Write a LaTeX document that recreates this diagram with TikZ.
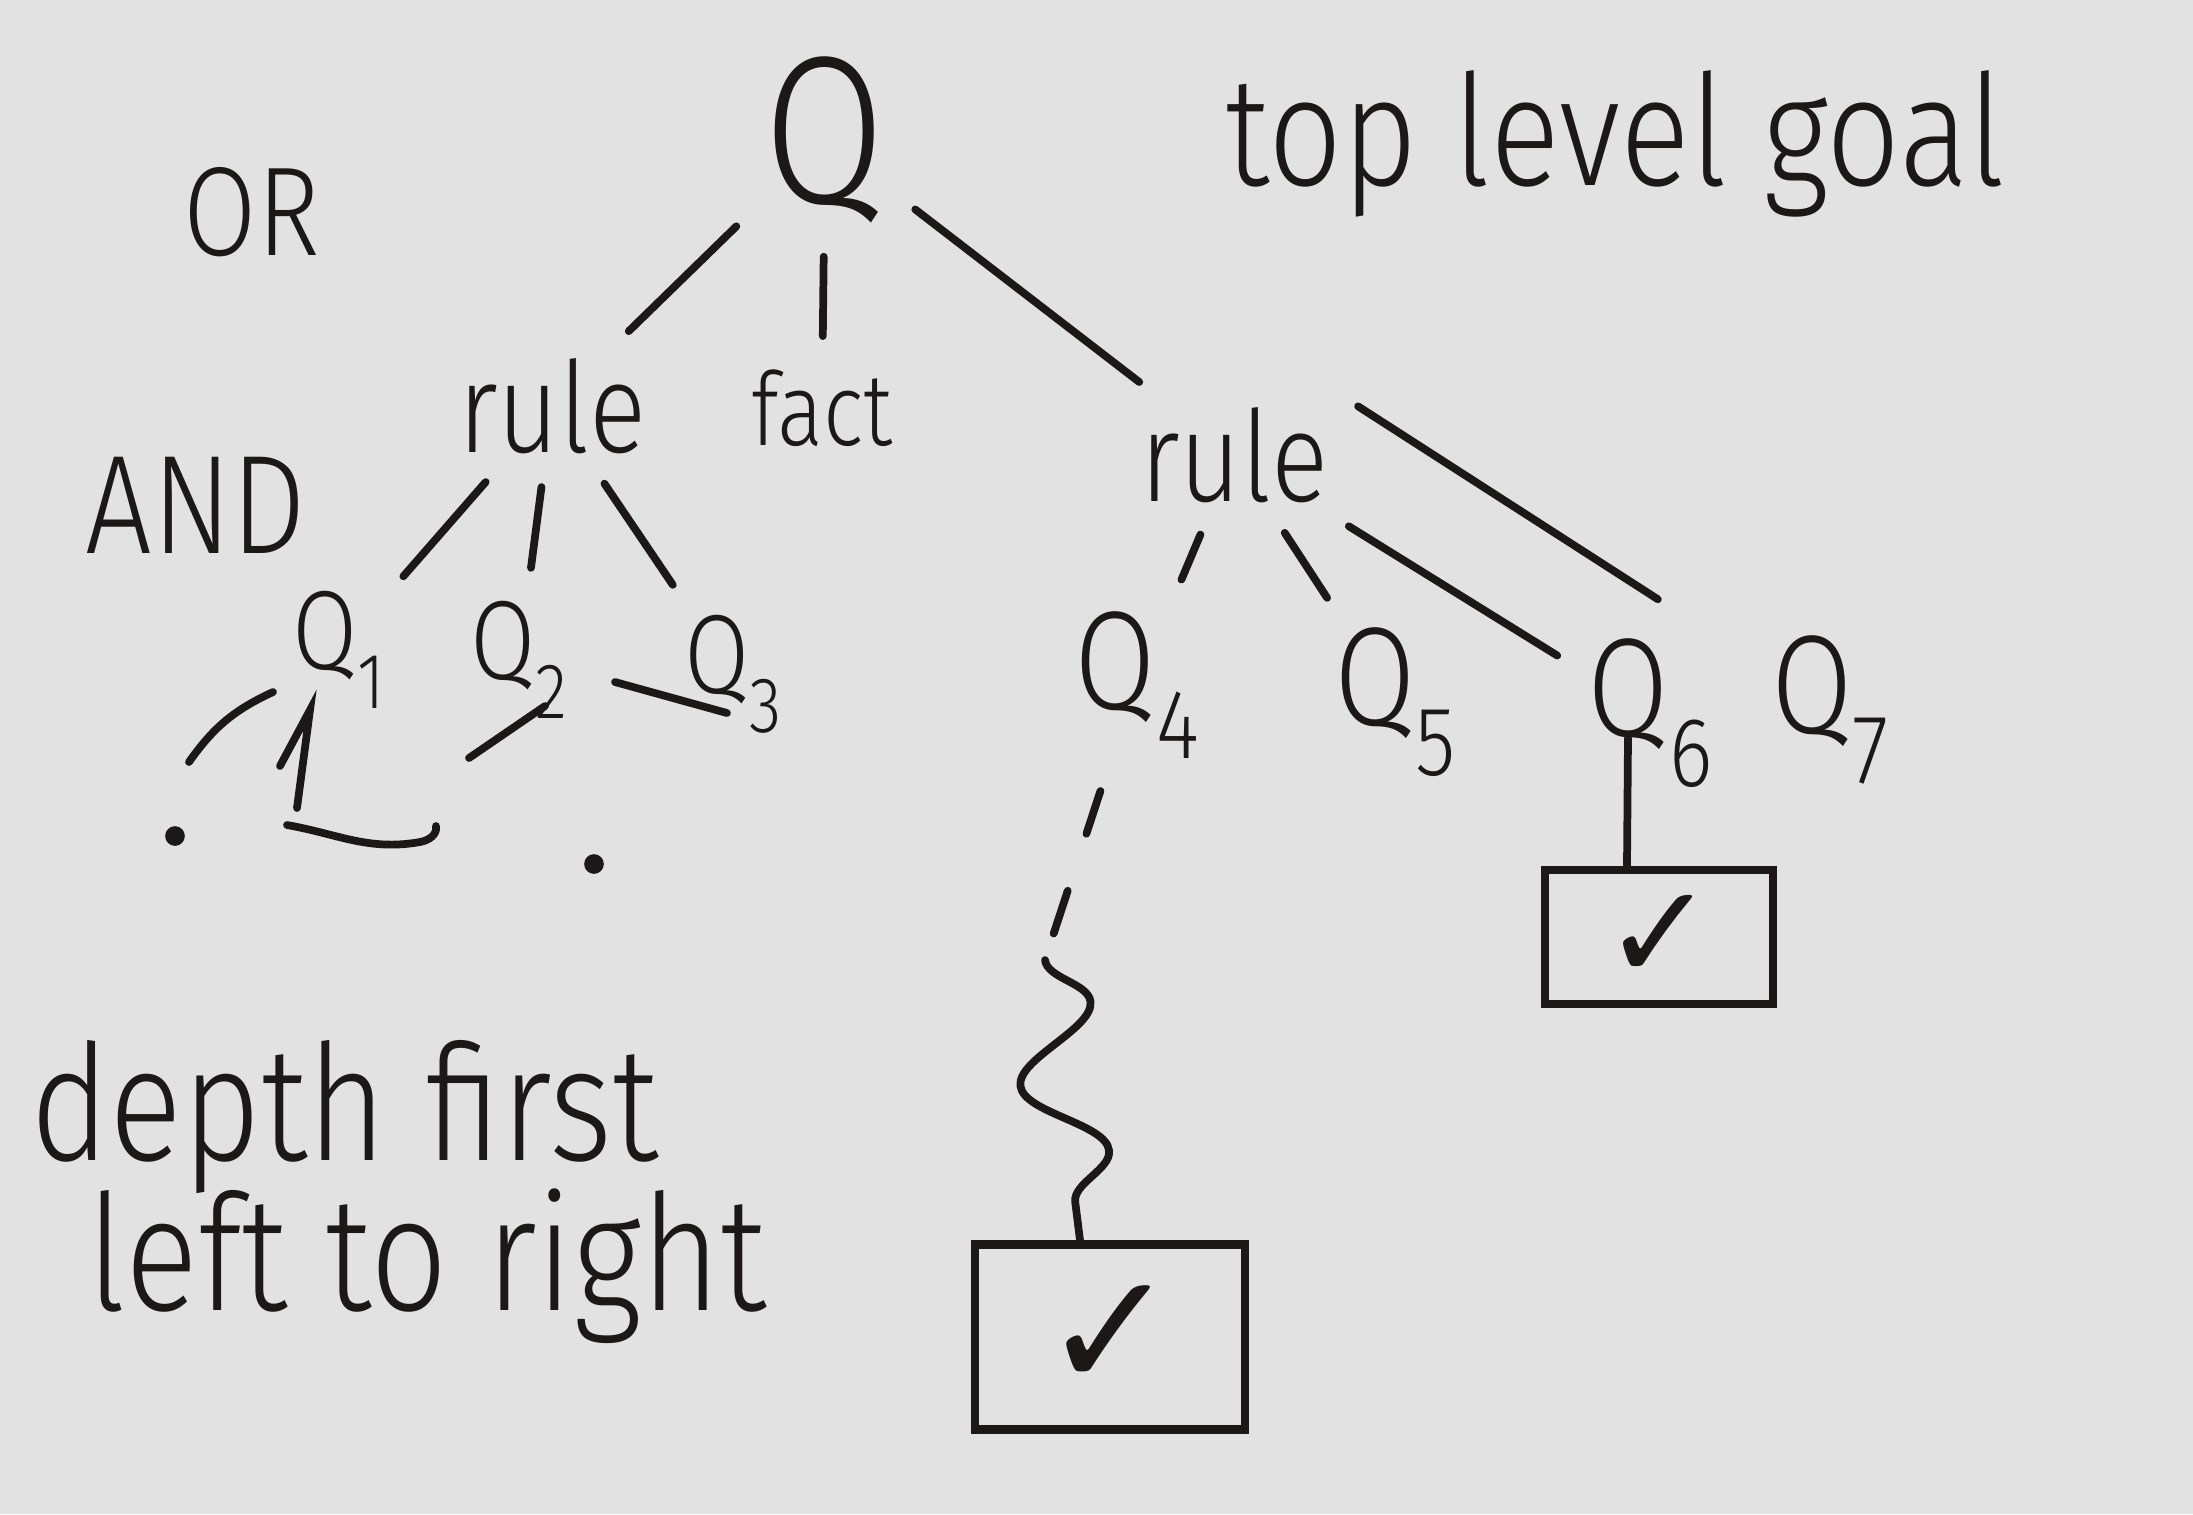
\documentclass[tikz,border=0pt]{standalone}
\usepackage{fontspec}
\usepackage{graphicx}
\usetikzlibrary{decorations.pathmorphing}
\newfontfamily\hand[FakeStretch=0.84]{Fira Sans Light}
\newfontfamily\checkfont{DejaVu Sans}
\definecolor{ink}{RGB}{28,24,24}
\definecolor{board}{RGB}{226,226,226}
\newcommand{\Qn}[1]{Q\raisebox{-.35em}{\scalebox{.7}{#1}}}

\begin{document}
\begin{tikzpicture}[line cap=round,
    every node/.style={text=ink},
    edge/.style={draw=ink, line width=2.2pt, shorten <=6pt, shorten >=6pt},
    sz/.style={font=\hand\fontsize{#1}{#1}\selectfont}]
  \fill[board] (0,0) rectangle (21.93,-15.14);
  \useasboundingbox (0,0) rectangle (21.93,-15.14);

  % goal and the three ways to prove it
  \node[sz=60] (Q) at (8.25,-1.40) {Q};
  \node[sz=44, anchor=base] (goal) at (16.15,-1.85) {top level goal};
  \node[sz=36] (or) at (2.52,-2.12) {OR};
  \node[sz=36] (ruleL) at (5.52,-4.06) {rule};
  \node[sz=29] (fact) at (8.22,-4.08) {fact};
  \node[sz=40, inner sep=1pt] (and) at (1.96,-5.05) {AND};
  \node[sz=36] (ruleR) at (12.34,-4.55) {rule};

  % subgoals
  \node[sz=32, inner sep=1pt] (Q1) at (3.39,-6.50) {\Qn{1}};
  \node[sz=32] (Q2) at (5.19,-6.60) {\Qn{2}};
  \node[sz=32] (Q3) at (7.33,-6.74) {\Qn{3}};
  \node[sz=40] (Q4) at (11.37,-6.85) {\Qn{4}};
  \node[sz=40] (Q5) at (13.95,-7.02) {\Qn{5}};
  \node[sz=40] (Q6) at (16.50,-7.13) {\Qn{6}};
  \node[sz=40] (Q7) at (18.30,-7.10) {\Qn{7}};

  % proved leaves
  \node[draw=ink, line width=2.4pt, minimum width=2.7cm, minimum height=1.85cm,
    font=\checkfont\fontsize{46}{46}\selectfont] (box4) at (11.10,-13.37) {✓};
  \node[draw=ink, line width=2.4pt, minimum width=2.28cm, minimum height=1.34cm,
    font=\checkfont\fontsize{38}{38}\selectfont] (box6) at (16.59,-9.37) {✓};

  \node[sz=46, anchor=base west] (depth) at (0.18,-11.6) {depth first};
  \node[sz=46, anchor=base west] (order) at (0.75,-13.1) {left to right};

  \draw[edge] (Q) -- (ruleL);
  \draw[edge] (Q) -- (fact);
  \draw[edge] (Q) -- (ruleR);
  \draw[edge] (ruleL) -- (Q1);
  \draw[edge] (ruleL) -- (Q2);
  \draw[edge] (ruleL) -- (Q3);
  \draw[edge] (ruleR) -- (Q4);
  \draw[edge] (ruleR) -- (Q5);
  \draw[edge] (ruleR) -- (Q6);
  \draw[edge, shorten >=1.2cm] (ruleR.north east) -- (Q7);

  \coordinate (w4) at (10.45,-9.6);
  \draw[edge, dash pattern=on 0.45cm off 0.6cm] ([xshift=-0.3cm]Q4.south) -- (w4);
  \draw[edge, shorten <=0pt, shorten >=0pt, decorate,
    decoration={snake, amplitude=0.4cm, segment length=1.5cm}] (w4) -- ([xshift=-0.3cm]box4.north);
  \draw[edge, shorten <=0pt, shorten >=0pt] ([xshift=-0.22cm,yshift=-0.25cm]Q6.center) -- ([xshift=-0.32cm]box6.north);

  % rough search marks under Q1 .. Q3
  \draw[edge, shorten <=0pt, shorten >=0pt] (1.89,-7.62) to[bend left=15] (2.73,-6.92);
  \draw[edge, shorten <=0pt, shorten >=0pt] (2.80,-7.66) -- (3.10,-7.10) -- (2.97,-8.08);
  \draw[edge, shorten <=0pt, shorten >=0pt] (2.87,-8.25) to[out=-10,in=190] (4.2,-8.42) to[out=10,in=-80] (4.36,-8.26);
  \draw[edge, shorten <=0pt, shorten >=0pt] (4.69,-7.58) -- (5.45,-7.06);
  \draw[edge, shorten <=0pt, shorten >=0pt] (6.15,-6.82) -- (7.27,-7.13);
  \fill[ink] (1.75,-8.36) circle (2.8pt);
  \fill[ink] (5.94,-8.64) circle (2.8pt);
\end{tikzpicture}
\end{document}
